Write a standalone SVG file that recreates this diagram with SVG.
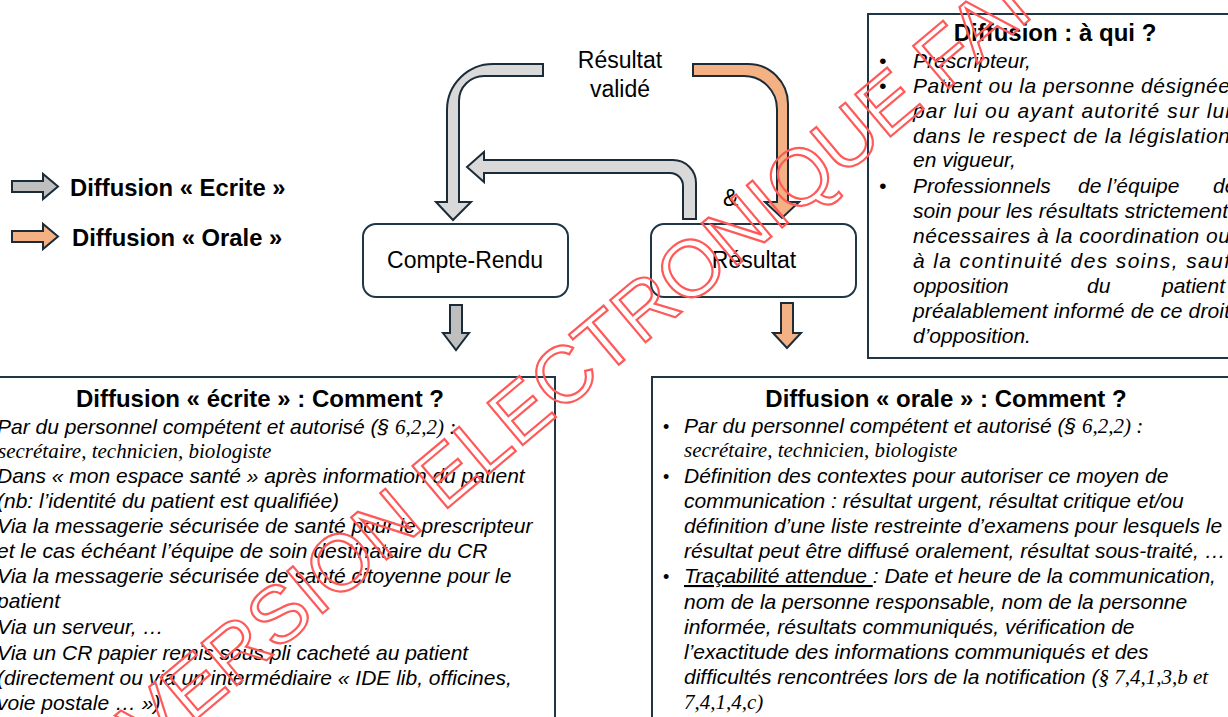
<svg xmlns="http://www.w3.org/2000/svg" width="1228" height="717" viewBox="0 0 1228 717">
  <style>
    .sans { font-family: "Liberation Sans", Arial, sans-serif; fill: #000; }
    .b { font-weight: bold; }
    .it { font-style: italic; font-size: 21px; }
    .tm { font-family: "Liberation Serif", "Times New Roman", serif; font-style: italic; font-size: 21px; }
    .lbl { font-size: 23px; }
    .ttl { font-size: 24px; font-weight: bold; }
    .box { fill: #fff; stroke: #1e3646; stroke-width: 2; }
    .ar { stroke: #1b2c38; stroke-width: 2; stroke-linejoin: miter; }
    .gray { fill: #d9d9d9; }
    .gray2 { fill: #bfbfbf; }
    .orange { fill: #f4b183; }
    .wm { font-family: "Liberation Sans", Arial, sans-serif; font-size: 80px; fill: none; stroke: #ff5a5a; stroke-width: 2.2; }
  </style>

  <rect width="1228" height="717" fill="#fff"/>

  <!-- legend -->
  <g id="legend">
    <path class="ar gray2" d="M12,181 H43 V174 L58,186.5 L43,199 V192 H12 Z"/>
    <text class="sans b" x="70" y="196" font-size="23.8">Diffusion « Ecrite »</text>
    <path class="ar orange" d="M12,231 H43 V224 L58,236.5 L43,249 V242 H12 Z"/>
    <text class="sans b" x="72" y="246" font-size="23.8">Diffusion « Orale »</text>
  </g>

  <!-- source label -->
  <g id="resultat-valide">
    <text class="sans lbl" x="620" y="68" text-anchor="middle">Résultat</text>
    <text class="sans lbl" x="620" y="97" text-anchor="middle">validé</text>
  </g>

  <!-- connectors -->
  <g id="connectors">
    <!-- validated result to report (written) -->
    <path class="ar gray" d="M543,64 H493 A46,46 0 0 0 447,110 V202 H436 L453,220 L471,202 H459 V101 A25,25 0 0 1 484,76 H543 Z"/>
    <!-- validated result to result (oral) -->
    <path class="ar orange" d="M693,64 H748 A40,40 0 0 1 788,104 V202 H799 L782,218 L765,202 H777 V109 A33,33 0 0 0 744,76 H693 Z"/>
    <!-- result back to report -->
    <path class="ar gray" d="M683,219 V186 A13,13 0 0 0 670,173 H484 V182 L467,167 L484,152 V160 H673 A23,23 0 0 1 696,183 V219 Z"/>
    <!-- outputs -->
    <path class="ar gray2" d="M450,305 H462 V333 H469 L456,350 L443,333 H450 Z"/>
    <path class="ar orange" d="M781,303 H793 V333 H801 L787,348 L773,333 H781 Z"/>
  </g>

  <text class="sans lbl" x="723" y="206">&amp;</text>

  <g id="compte-rendu">
    <rect class="box" x="363" y="224" width="205" height="73" rx="13"/>
    <text class="sans lbl" x="465" y="268" text-anchor="middle">Compte-Rendu</text>
  </g>

  <g id="resultat">
    <rect class="box" x="651" y="224" width="205" height="73" rx="13"/>
    <text class="sans lbl" x="754" y="268" text-anchor="middle">Résultat</text>
  </g>

  <!-- recipients -->
  <g id="diffusion-a-qui">
    <rect class="box" x="868" y="14" width="380" height="344"/>
    <text class="sans ttl" x="1055" y="41" text-anchor="middle">Diffusion : à qui ?</text>
    <g class="sans it">
      <text x="879" y="68">•</text>
      <text x="879" y="93">•</text>
      <text x="879" y="193">•</text>
      <text x="913" y="68">Prescripteur,</text>
      <text x="913" y="93" textLength="317" lengthAdjust="spacing">Patient ou la personne désignée</text>
      <text x="913" y="118" textLength="317" lengthAdjust="spacing">par lui ou ayant autorité sur lui</text>
      <text x="913" y="143" textLength="317" lengthAdjust="spacing">dans le respect de la législation</text>
      <text x="913" y="167">en vigueur,</text>
      <text x="913" y="193">Professionnels</text>
      <text x="1078" y="193">de</text>
      <text x="1107" y="193">l’équipe</text>
      <text x="1213" y="193">de</text>
      <text x="913" y="218" textLength="315" lengthAdjust="spacing">soin pour les résultats strictement</text>
      <text x="913" y="243" textLength="317" lengthAdjust="spacing">nécessaires à la coordination ou</text>
      <text x="913" y="268" textLength="317" lengthAdjust="spacing">à la continuité des soins, sauf</text>
      <text x="913" y="293">opposition</text>
      <text x="1087" y="293">du</text>
      <text x="1162" y="293">patient</text>
      <text x="913" y="318" textLength="317" lengthAdjust="spacing">préalablement informé de ce droit</text>
      <text x="913" y="343">d’opposition.</text>
    </g>
  </g>

  <!-- written distribution -->
  <g id="diffusion-ecrite">
    <rect class="box" x="-5" y="377" width="560" height="360"/>
    <text class="sans ttl" x="260" y="407" text-anchor="middle">Diffusion « écrite » : Comment ?</text>
    <g class="sans it">
      <text x="-3" y="434">Par du personnel compétent et autorisé (§ <tspan class="tm">6,2,2) :</tspan></text>
      <text x="-2" y="458" class="tm">secrétaire, technicien, biologiste</text>
      <text x="-3" y="483">Dans « mon espace santé » après information du patient</text>
      <text x="-3" y="508">(nb: l’identité du patient est qualifiée)</text>
      <text x="-3" y="533">Via la messagerie sécurisée de santé pour le prescripteur</text>
      <text x="-3" y="558">et le cas échéant l’équipe de soin destinataire du CR</text>
      <text x="-3" y="583">Via la messagerie sécurisée de santé citoyenne pour le</text>
      <text x="-3" y="608">patient</text>
      <text x="-3" y="634">Via un serveur, …</text>
      <text x="-3" y="660">Via un CR papier remis sous pli cacheté au patient</text>
      <text x="-3" y="685">(directement ou via un intermédiaire « IDE lib, officines,</text>
      <text x="-3" y="710">voie postale … »)</text>
    </g>
  </g>

  <!-- oral distribution -->
  <g id="diffusion-orale">
    <rect class="box" x="652" y="377" width="600" height="360"/>
    <text class="sans ttl" x="946" y="407" text-anchor="middle">Diffusion « orale » : Comment ?</text>
    <g class="sans it">
      <text x="663" y="433" font-size="18" font-style="normal">•</text>
      <text x="663" y="483" font-size="18" font-style="normal">•</text>
      <text x="663" y="583" font-size="18" font-style="normal">•</text>
      <text x="684" y="433">Par du personnel compétent et autorisé (§ <tspan class="tm">6,2,2) :</tspan></text>
      <text x="684" y="457" class="tm">secrétaire, technicien, biologiste</text>
      <text x="684" y="483">Définition des contextes pour autoriser ce moyen de</text>
      <text x="684" y="508">communication : résultat urgent, résultat critique et/ou</text>
      <text x="684" y="533">définition d’une  liste restreinte d’examens pour lesquels le</text>
      <text x="684" y="558">résultat peut être diffusé oralement, résultat sous-traité, …</text>
      <text x="684" y="583"><tspan text-decoration="underline">Traçabilité attendue </tspan>: Date et heure de la communication,</text>
      <text x="684" y="609">nom de la personne responsable, nom de la personne</text>
      <text x="684" y="634">informée, résultats communiqués, vérification de</text>
      <text x="684" y="659">l’exactitude des informations communiqués et des</text>
      <text x="684" y="684">difficultés rencontrées lors de la notification (<tspan class="tm">§ 7,4,1,3,b et</tspan></text>
      <text x="684" y="709" class="tm">7,4,1,4,c)</text>
    </g>
  </g>

  <!-- watermark -->
  <text class="wm" transform="translate(150,758) rotate(-40)">VERSION ELECTRONIQUE FAI</text>
</svg>
